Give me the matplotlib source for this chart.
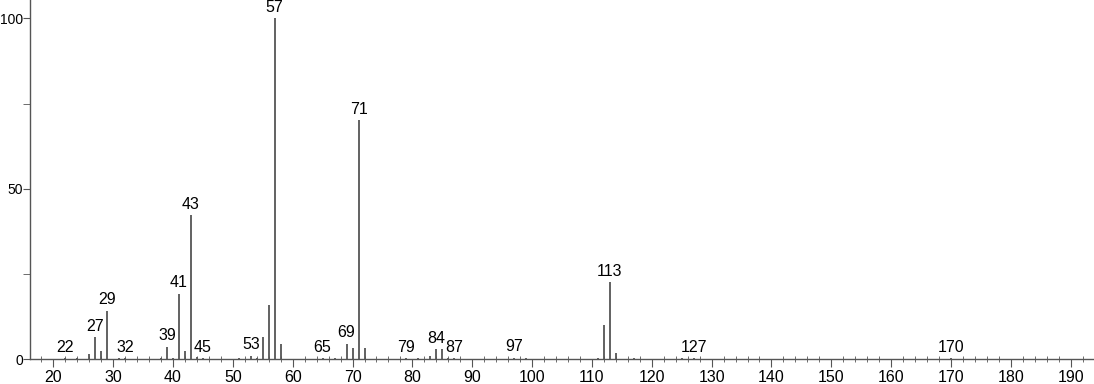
import numpy as np
import matplotlib.pyplot as plt
from matplotlib.ticker import MultipleLocator

plt.rcParams['font.family'] = ['Liberation Sans', 'DejaVu Sans']

# m/z and relative intensity
mz = [22, 24, 26, 27, 28, 29, 31, 32, 38, 39, 40, 41, 42, 43, 44, 45,
      51, 53, 54, 55, 56, 57, 58, 63, 65, 67, 69, 70, 71, 72, 77, 79,
      81, 83, 84, 85, 86, 87, 95, 97, 99, 111, 112, 113, 114, 117, 125,
      127, 141, 155, 170]
intensity = [0.4, 0.3, 1.5, 6.4, 2.4, 14.2, 0.3, 0.4, 0.5, 3.7, 0.4, 19.2, 2.4, 42.3, 0.8, 0.4,
             0.3, 1.0, 0.5, 6.6, 15.8, 100, 4.6, 0.2, 0.4, 0.4, 4.6, 3.2, 70.2, 3.4, 0.2, 0.3,
             0.3, 0.9, 2.9, 2.9, 0.4, 0.4, 0.2, 0.5, 0.3, 0.4, 10.0, 22.7, 1.8, 0.3, 0.3,
             0.4, 0.2, 0.2, 0.3]
labelled = [22, 27, 29, 32, 39, 41, 43, 45, 53, 57, 65, 69, 71, 79, 84, 87, 97, 113, 127, 170]

fig = plt.figure(figsize=(10.94, 3.84), dpi=100)
ax = fig.add_axes([0.0274, 0.0643, 0.9726, 0.9357])

ax.vlines(mz, 0, intensity, color='#555555', linewidth=1.3)
for m, h in zip(mz, intensity):
    if m in labelled:
        ax.text(m, h + 1.0, str(m), ha='center', va='bottom', fontsize=11.5)

ax.set_xlim(16.1, 193.9)
ax.set_ylim(0, 105.4)
ax.xaxis.set_major_locator(MultipleLocator(10))
ax.xaxis.set_minor_locator(MultipleLocator(2))
ax.yaxis.set_major_locator(MultipleLocator(50))
ax.yaxis.set_minor_locator(MultipleLocator(25))

for s in ['top', 'right']:
    ax.spines[s].set_visible(False)
for s in ['left', 'bottom']:
    ax.spines[s].set_color('#555555')
    ax.spines[s].set_linewidth(1.0)

ax.tick_params(axis='x', which='major', direction='out', length=6, color='#555555',
               labelsize=11.5, pad=2)
ax.tick_params(axis='x', which='minor', direction='inout', length=4, color='#555555')
ax.tick_params(axis='y', which='both', direction='out', length=5, color='#555555',
               labelsize=10, pad=0)

fig.savefig('out.png', dpi=100)
